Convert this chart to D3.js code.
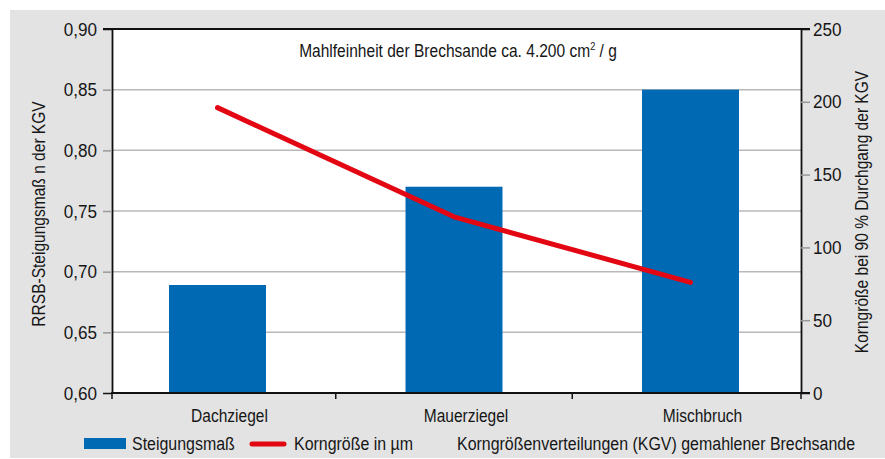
<!DOCTYPE html>
<html>
<head>
<meta charset="utf-8">
<script src="https://cdn.jsdelivr.net/npm/d3@7"></script>
<style>
  body { margin: 0; background: #fff; }
  svg text { font-family: "Liberation Sans", Arial, sans-serif; fill: #161616; }
</style>
</head>
<body>
<div id="chart"></div>
<script>
// data
var categories = ["Dachziegel", "Mauerziegel", "Mischbruch"];
var steigung = [0.689, 0.770, 0.850];      // left axis, bars
var korngroesse = [196, 121, 76];           // right axis, line (µm)
var leftTicks = [0.60, 0.65, 0.70, 0.75, 0.80, 0.85, 0.90];
var rightTicks = [0, 50, 100, 150, 200, 250];

var width = 885, height = 459;
var pL = 112, pR = 801, pT = 29, pB = 393;
var narrow = 0.84;   // condensed look (no narrow font installed)

var svg = d3.select("#chart").append("svg")
    .attr("width", width)
    .attr("height", height);

// text helper: squeezed horizontally around its anchor point
function label(g, tx, ty, str, size, anchor, rot) {
  return g.append("text")
    .attr("transform", "translate(" + tx + "," + ty + ")" + (rot ? " rotate(" + rot + ")" : "") + " scale(" + narrow + ",1)")
    .attr("text-anchor", anchor || "start")
    .attr("font-size", size)
    .text(str);
}

// grey panel + white plot area
svg.append("rect").attr("x", 10).attr("y", 10).attr("width", width - 10).attr("height", height - 11).attr("fill", "#e3e3e3");
svg.append("rect").attr("x", pL).attr("y", pT).attr("width", pR - pL).attr("height", pB - pT).attr("fill", "#fff");

var x = d3.scaleBand()
    .domain(categories)
    .range([99.25, 808.75])
    .paddingInner(0.59)
    .paddingOuter(0.295);

var yL = d3.scaleLinear().domain([0.60, 0.90]).range([pB, pT]);
var yR = d3.scaleLinear().domain([0, 250]).range([pB, pT]);

var comma = function(d) { return d3.format(".2f")(d).replace(".", ","); };

// gridlines
svg.append("g").selectAll("line")
    .data(leftTicks.slice(1, -1))
    .enter().append("line")
    .attr("x1", pL).attr("x2", pR)
    .attr("y1", function(d) { return yL(d); })
    .attr("y2", function(d) { return yL(d); })
    .attr("stroke", "#b8b8b8")
    .attr("stroke-width", 1.5);

// bars
svg.append("g").selectAll("rect")
    .data(steigung)
    .enter().append("rect")
    .attr("x", function(d, i) { return x(categories[i]); })
    .attr("width", x.bandwidth())
    .attr("y", function(d) { return yL(d); })
    .attr("height", function(d) { return pB - yL(d); })
    .attr("fill", "#0069b3");

// line
var line = d3.line()
    .x(function(d, i) { return x(categories[i]) + x.bandwidth() / 2; })
    .y(function(d) { return yR(d); });

svg.append("path")
    .datum(korngroesse)
    .attr("d", line)
    .attr("fill", "none")
    .attr("stroke", "#e30613")
    .attr("stroke-width", 5)
    .attr("stroke-linecap", "round")
    .attr("stroke-linejoin", "round");

// top border
svg.append("line").attr("x1", 103).attr("x2", 810).attr("y1", pT).attr("y2", pT)
    .attr("stroke", "#111").attr("stroke-width", 1.8);

// left axis
var gL = svg.append("g")
    .attr("transform", "translate(" + pL + ",0)")
    .call(d3.axisLeft(yL).tickValues(leftTicks).tickFormat(comma).tickSize(9).tickPadding(6).tickSizeOuter(0));
gL.select(".domain").attr("stroke", "#111").attr("stroke-width", 1.8);
gL.selectAll(".tick line").attr("stroke", function(d) { return (d === 0.60 || d === 0.90) ? "#111" : "#999"; }).attr("stroke-width", 1.5);
gL.selectAll(".tick text").attr("font-size", 19).style("font-family", null)
    .attr("x", -15 / 0.9).attr("transform", "scale(0.9,1)");

// right axis
var gR = svg.append("g")
    .attr("transform", "translate(" + pR + ",0)")
    .call(d3.axisRight(yR).tickValues(rightTicks).tickSize(9).tickPadding(3).tickSizeOuter(0));
gR.select(".domain").attr("stroke", "#111").attr("stroke-width", 1.8);
gR.selectAll(".tick line").attr("stroke", function(d) { return (d === 0 || d === 250) ? "#111" : "#999"; }).attr("stroke-width", 1.5);
gR.selectAll(".tick text").attr("font-size", 19).style("font-family", null)
    .attr("x", 12 / 0.9).attr("transform", "scale(0.9,1)");

// bottom axis
svg.append("line").attr("x1", pL - 1).attr("x2", pR + 9).attr("y1", pB).attr("y2", pB)
    .attr("stroke", "#111").attr("stroke-width", 1.8);
var bTicks = [pL, pR].concat(categories.slice(0, -1).map(function(c) { return x(c) + x.bandwidth() / 2 + x.step() / 2; }));
svg.append("g").selectAll("line")
    .data(bTicks)
    .enter().append("line")
    .attr("x1", function(d) { return d; }).attr("x2", function(d) { return d; })
    .attr("y1", pB).attr("y2", pB + 6)
    .attr("stroke", "#111").attr("stroke-width", 1.5);

var gX = svg.append("g");
categories.forEach(function(c) {
  label(gX, x(c) + x.bandwidth() / 2 + 12, 422, c, 18.5, "middle");
});

// title inside plot
var t = label(svg, 458, 57, "", 18.5, "middle");
t.append("tspan").text("Mahlfeinheit der Brechsande ca. 4.200 cm");
t.append("tspan").attr("font-size", 11).attr("dy", -7).text("2");
t.append("tspan").attr("dy", 7).text(" / g");

// axis titles
label(svg, 45, 214, "RRSB-Steigungsmaß n der KGV", 18.5, "middle", -90);
label(svg, 868, 212, "Korngröße bei 90 % Durchgang der KGV", 18.5, "middle", -90);

// legend
svg.append("rect").attr("x", 84).attr("y", 438).attr("width", 42).attr("height", 11).attr("fill", "#0069b3");
label(svg, 132, 450, "Steigungsmaß", 19);
svg.append("line").attr("x1", 252).attr("x2", 284).attr("y1", 444).attr("y2", 444)
    .attr("stroke", "#e30613").attr("stroke-width", 5).attr("stroke-linecap", "round");
label(svg, 294, 450, "Korngröße in µm", 19);
label(svg, 457, 450, "Korngrößenverteilungen (KGV) gemahlener Brechsande", 19);
</script>
</body>
</html>
